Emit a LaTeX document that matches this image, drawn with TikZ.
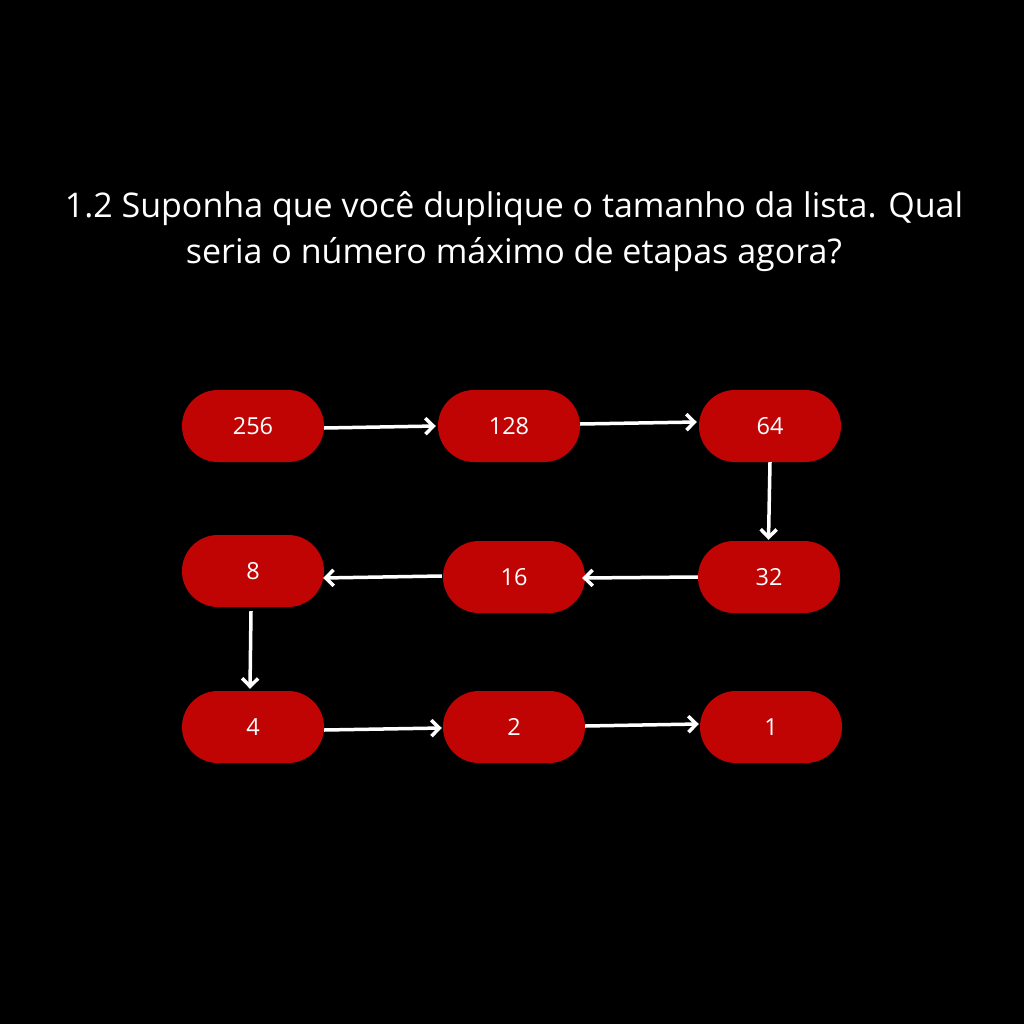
\documentclass[tikz,border=0pt]{standalone}
\usepackage{fontspec}
\setmainfont{Open Sans}
\usetikzlibrary{arrows.meta}
\definecolor{boxred}{RGB}{192,4,4}
\tikzset{
  pill/.style={fill=boxred, draw=none, rounded corners=35.9pt, minimum width=142pt, minimum height=72pt, inner sep=0pt, text=white, font=\fontsize{23.5}{28}\selectfont},
  conn/.style={draw=white, line width=3.5pt, -{Straight Barb[length=8pt, width=16pt, line width=3.5pt]}}
}
\begin{document}
\begin{tikzpicture}[x=1pt,y=-1pt]
\fill[black] (0,0) rectangle (1024,1024);
\useasboundingbox (0,0) rectangle (1024,1024);
\node[text=white, align=center, font=\fontsize{34}{46}\selectfont] (title) at (514,232) {1.2 Suponha que você duplique o tamanho da lista. Qual\\seria o número máximo de etapas agora?};
\node[pill] (n256) at (253,426) {256};
\node[pill] (n128) at (509,426) {128};
\node[pill] (n64) at (770,426) {64};
\node[pill] (n32) at (769,577) {32};
\node[pill] (n16) at (514,577) {16};
\node[pill] (n8) at (253,571) {8};
\node[pill] (n4) at (253,727) {4};
\node[pill] (n2) at (514,727) {2};
\node[pill] (n1) at (771,727) {1};
\draw[conn] ([yshift=-2pt]n256.east) -- ([yshift=0pt,xshift=-2pt]n128.west);
\draw[conn] ([yshift=2pt]n128.east) -- ([yshift=4pt,xshift=-2pt]n64.west);
\draw[conn] (n64.south) -- ([xshift=-0.5pt,yshift=1pt]n32.north);
\draw[conn] (n32.west) -- ([xshift=-3pt,yshift=-1pt]n16.east);
\draw[conn] ([yshift=1pt,xshift=-1pt]n16.west) -- ([yshift=-7pt,xshift=-1pt]n8.east);
\draw[conn] ([xshift=-2pt,yshift=-4pt]n8.south) -- ([xshift=-3pt,yshift=2pt]n4.north);
\draw[conn] ([yshift=-3pt]n4.east) -- ([yshift=-1pt,xshift=-1pt]n2.west);
\draw[conn] ([yshift=1pt]n2.east) -- ([yshift=3pt,xshift=-1pt]n1.west);
\end{tikzpicture}
\end{document}
